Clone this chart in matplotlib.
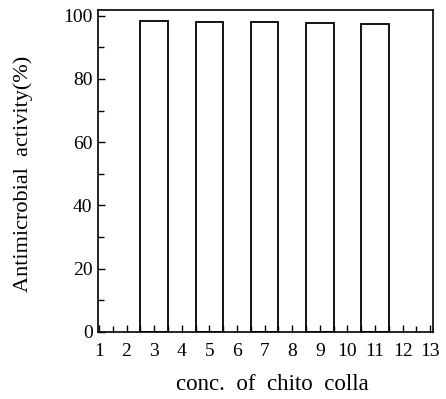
import matplotlib
matplotlib.use('Agg')
import matplotlib.pyplot as plt
import numpy as np

plt.rcParams['font.family'] = ['Liberation Serif', 'DejaVu Serif']

# data
conc = [3, 5, 7, 9, 11]
activity = [98.2, 98.1, 97.9, 97.7, 97.5]
xticks = list(range(1, 14))

fig = plt.figure(figsize=(4.46, 3.99), dpi=100)
ax = fig.add_axes([0.22, 0.168, 0.751, 0.807])

ax.bar(conc, activity, width=1.0, color='white', edgecolor='black', linewidth=1.3)

ax.set_xlim(0.97, 13.1)
ax.set_ylim(0, 101.8)
ax.set_xticks(xticks)
ax.set_xticklabels([str(t) for t in xticks])
ax.set_xticks(np.arange(1.5, 13, 1.0), minor=True)
ax.set_yticks(range(0, 101, 20))
ax.set_yticks(range(10, 100, 20), minor=True)
ax.tick_params(direction='in', which='both', labelsize=14, width=1)
ax.tick_params(axis='x', pad=8)
ax.tick_params(axis='y', pad=4)
ax.tick_params(which='major', length=5)
ax.tick_params(which='minor', length=4)
for s in ax.spines.values():
    s.set_linewidth(1.2)

ax.set_xlabel('conc.  of  chito  colla', fontsize=16.5)
ax.set_ylabel('Antimicrobial  activity(%)', fontsize=16)
ax.xaxis.set_label_coords(0.52, -0.13)
ax.yaxis.set_label_coords(-0.194, 0.49)

fig.savefig('out.png', dpi=100)
